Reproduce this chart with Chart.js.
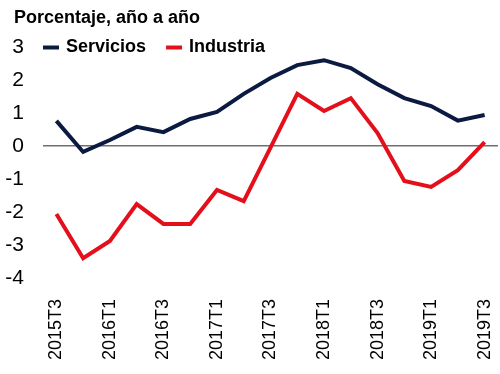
<!DOCTYPE html>
<html>
<head>
<meta charset="utf-8">
<script src="https://cdn.jsdelivr.net/npm/chart.js@4"></script>
<style>
  html, body { margin: 0; padding: 0; background: #fff; }
  #wrap { width: 500px; height: 374px; }
</style>
</head>
<body>
<div id="wrap"><canvas id="chart"></canvas></div>
<script>
const quarters = ['2015T3', '2015T4', '2016T1', '2016T2', '2016T3', '2016T4', '2017T1', '2017T2',
    '2017T3', '2017T4', '2018T1', '2018T2', '2018T3', '2018T4', '2019T1', '2019T2', '2019T3'];
const servicios = [0.76, -0.18, 0.18, 0.58, 0.42, 0.82, 1.03, 1.58, 2.06, 2.45, 2.6, 2.36, 1.87, 1.45, 1.21, 0.77, 0.94];
const industria = [-2.06, -3.4, -2.88, -1.76, -2.36, -2.36, -1.33, -1.67, -0.05, 1.58, 1.06, 1.45, 0.39, -1.06, -1.24, -0.73, 0.12];
const yTicks = [3, 2, 1, 0, -1, -2, -3, -4];

const titleText = 'Porcentaje, año a año';
const fontFamily = 'Arial, "Liberation Sans", sans-serif';

// title and legend drawn on the canvas, legend sits inside the plot next to the "3"
const headerPlugin = {
    id: 'header',
    afterDraw(chart) {
        const ctx = chart.ctx;
        ctx.save();
        ctx.fillStyle = '#000';
        ctx.textBaseline = 'middle';
        ctx.textAlign = 'left';
        ctx.font = 'bold 18px ' + fontFamily;
        ctx.fillText(titleText, 14, 18);

        const y = 47.5;
        let x = 43;
        chart.data.datasets.forEach(ds => {
            ctx.strokeStyle = ds.borderColor;
            ctx.lineWidth = 4;
            ctx.beginPath();
            ctx.moveTo(x, y);
            ctx.lineTo(x + 16, y);
            ctx.stroke();
            ctx.font = 'bold 18px ' + fontFamily;
            ctx.fillText(ds.label, x + 23, y);
            x += 23 + ctx.measureText(ds.label).width + 20;
        });
        ctx.restore();
    }
};

new Chart(document.getElementById('chart'), {
    type: 'line',
    data: {
        labels: quarters,
        datasets: [
            { label: 'Servicios', data: servicios, borderColor: '#0b1a40', borderWidth: 4, pointRadius: 0, tension: 0 },
            { label: 'Industria', data: industria, borderColor: '#e3101b', borderWidth: 4, pointRadius: 0, tension: 0 }
        ]
    },
    options: {
        responsive: true,
        maintainAspectRatio: false,
        animation: false,
        layout: { padding: { top: 47, right: 2, bottom: 0, left: 0 } },
        plugins: {
            legend: { display: false },
            title: { display: false },
            tooltip: { enabled: false }
        },
        scales: {
            x: {
                offset: true,
                grid: { display: false },
                border: { display: false },
                afterFit(scale) {
                    scale.height = 96;
                    scale.paddingLeft = 0;
                    scale.paddingRight = 0;
                },
                ticks: {
                    autoSkip: false,
                    maxRotation: 90,
                    minRotation: 90,
                    padding: 13,
                    color: '#000',
                    font: { size: 18, family: fontFamily },
                    callback: function (value, index) {
                        return index % 2 === 0 ? quarters[index] : '';
                    }
                }
            },
            y: {
                min: -4,
                max: 3,
                afterFit(scale) { scale.width = 43; },
                afterBuildTicks(scale) { scale.ticks = yTicks.map(v => ({ value: v })); },
                border: { display: false },
                grid: {
                    drawTicks: false,
                    lineWidth: 1.5,
                    color: ctx => ctx.tick && ctx.tick.value === 0 ? '#6f6f6f' : 'rgba(0,0,0,0)'
                },
                ticks: {
                    padding: 19,
                    color: '#000',
                    font: { size: 21, family: fontFamily }
                }
            }
        }
    },
    plugins: [headerPlugin]
});
</script>
</body>
</html>
